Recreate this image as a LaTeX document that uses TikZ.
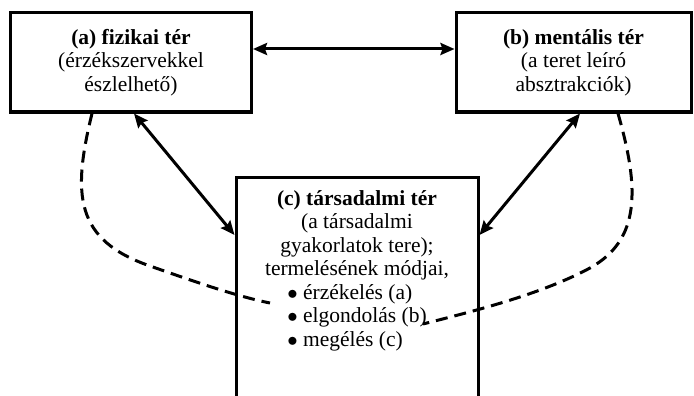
\documentclass[tikz,border=0pt]{standalone}
\usepackage{fontspec}
\setmainfont{Liberation Serif}
\usetikzlibrary{arrows.meta}

\begin{document}
\begin{tikzpicture}[x=1pt,y=-1pt,
		box/.style={draw, line width=3pt, inner sep=0pt, align=center,
			font=\fontsize{21.5}{23.5}\selectfont},
		txt/.style={align=center, inner sep=0pt, font=\fontsize{21.5}{23.5}\selectfont},
		tip/.tip={Stealth[length=14pt,width=12pt,inset=2pt]},
		link/.style={line width=3pt, tip-tip},
		dashlink/.style={line width=3pt, dash pattern=on 12pt off 7pt}]
			\clip (0,0) rectangle (694,396);

			\pgfmathsetmacro\HA{99}
			\pgfmathsetmacro\YA{62.5}

			% the three spaces
			\node [box, minimum width=241, minimum height=\HA] (a) at (131,\YA)
				{\textbf{(a) fizikai tér}\\(érzékszervekkel\\észlelhető)};
			\node [box, minimum width=235, minimum height=\HA] (b) at (573.5,\YA)
				{\textbf{(b) mentális tér}\\(a teret leíró\\absztrakciók)};
			\node [box, minimum width=242, minimum height=260, anchor=north] (cbox) at (357,176) {};
			\node [txt, anchor=north] (c) at (357,190)
				{\textbf{(c) társadalmi tér}\\(a társadalmi\\gyakorlatok tere);\\termelésének módjai,\\
				\begin{tabular}[t]{@{}l@{}}
					$\bullet$ érzékelés (a)\\
					$\bullet$ elgondolás (b)\\
					$\bullet$ megélés (c)
				\end{tabular}};

			\coordinate (pa) at (270,303);
			\coordinate (pb) at (423,324);

			\draw [link] ([yshift=13.5pt]a.east) -- ([yshift=13.5pt]b.west);
			\draw [link] ([xshift=3pt]a.south) -- ([yshift=-59pt]cbox.north west);
			\draw [link] ([xshift=6.5pt]b.south) -- ([yshift=-59pt]cbox.north east);

			\draw [dashlink] ([xshift=-39pt]a.south) .. controls (72,195) and (75,240) .. (150,266)
				.. controls (190,280) and (235,296) .. (pa);
			\draw [dashlink] ([xshift=44.5pt]b.south) .. controls (640,190) and (640,240) .. (590,268)
				.. controls (540,295) and (470,312) .. (pb);

		\end{tikzpicture}
\end{document}
